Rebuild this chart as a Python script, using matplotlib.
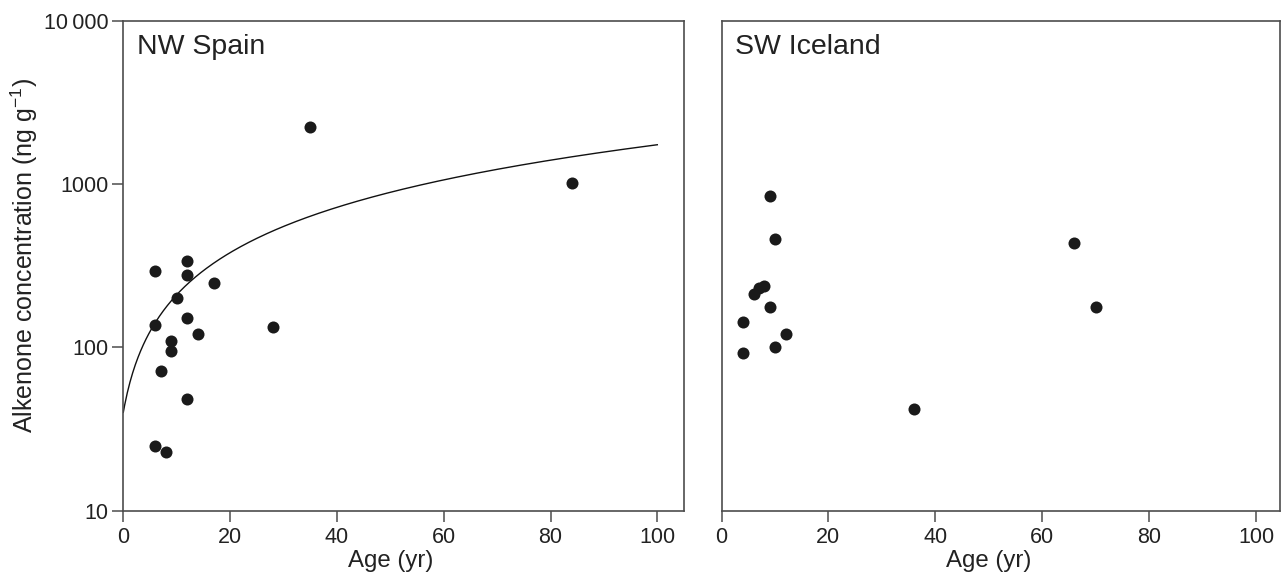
import numpy as np
import matplotlib
matplotlib.use("Agg")
import matplotlib.pyplot as plt

plt.rcParams['font.family'] = ['Liberation Sans', 'DejaVu Sans']
plt.rcParams['mathtext.fontset'] = 'custom'
plt.rcParams['mathtext.rm'] = 'Liberation Sans'
plt.rcParams['mathtext.it'] = 'Liberation Sans:italic'
plt.rcParams['mathtext.bf'] = 'Liberation Sans:bold'

# ---- data ----
spain_age = [35, 84, 6, 12, 12, 17, 10, 6, 12, 14, 28, 9, 9, 7, 12, 6, 8]
spain_conc = [2240, 1010, 292, 337, 277, 247, 200, 138, 152, 120, 134, 110, 95, 72, 48, 25, 23]

iceland_age = [9, 10, 66, 6, 7, 8, 9, 70, 4, 12, 10, 4, 36]
iceland_conc = [845, 460, 435, 212, 230, 238, 177, 177, 143, 121, 101, 93, 42]

# fitted curve (linear model drawn on log axis)
fit_intercept = 40.0
fit_slope = 17.0
fit_xmax = 100

yticks = [10, 100, 1000, 10000]
ytick_labels = ['10', '100', '1000', '10\u2009000']
xticks = [0, 20, 40, 60, 80, 100]

panel_titles = ['NW Spain', 'SW Iceland']

W, H = 1281, 579
fig = plt.figure(figsize=(W / 100, H / 100), dpi=100)

top = 1 - 20.7 / H
bot = 1 - 510.7 / H
ax1 = fig.add_axes([123.3 / W, bot, (684 - 123.3) / W, top - bot])
ax2 = fig.add_axes([721.5 / W, bot, (1280 - 721.5) / W, top - bot])

spine_c = '#4d4d4d'
txt_c = '#222222'
dot_c = '#1a1a1a'

for ax, xmax in ((ax1, 105.0), (ax2, 104.5)):
    ax.set_yscale('log')
    ax.set_ylim(10, 10000)
    ax.set_xlim(0, xmax)
    ax.set_xticks(xticks)
    ax.set_xticklabels([str(t) for t in xticks])
    ax.yaxis.set_minor_locator(matplotlib.ticker.NullLocator())
    for s in ax.spines.values():
        s.set_color(spine_c)
        s.set_linewidth(1.2)
    ax.tick_params(axis='both', which='major', direction='out', length=8,
                   width=1.1, color=spine_c, labelsize=15.5, labelcolor=txt_c)
    ax.tick_params(axis='x', pad=4)
    ax.tick_params(axis='y', pad=2.5)
    ax.set_xlabel('Age (yr)', fontsize=17.3, color=txt_c, labelpad=1.5)
    ax.xaxis.label.set_x(50 / xmax)

ax1.set_yticks(yticks)
ax1.set_yticklabels(ytick_labels)
ax2.set_yticks(yticks)
ax2.tick_params(axis='y', left=False, labelleft=False)

ax1.set_ylabel('Alkenone concentration (ng g$^{\\mathregular{-1}}$)',
               fontsize=18, color=txt_c)
ax1.yaxis.set_label_coords(-(123.3 - 24) / 560.7, 0.52)
ax1.yaxis.label.set_va('center')

ax1.scatter(spain_age, spain_conc, s=75, color=dot_c, zorder=3, linewidths=0)
ax2.scatter(iceland_age, iceland_conc, s=75, color=dot_c, zorder=3, linewidths=0)

xs = np.linspace(0, fit_xmax, 400)
ax1.plot(xs, fit_intercept + fit_slope * xs, color='#111111', lw=1.0, zorder=2)

for ax, t in zip((ax1, ax2), panel_titles):
    ax.text(0.024, 0.932, t, transform=ax.transAxes, fontsize=20.5,
            color=txt_c, ha='left', va='baseline')

fig.savefig('out.png', dpi=100)
